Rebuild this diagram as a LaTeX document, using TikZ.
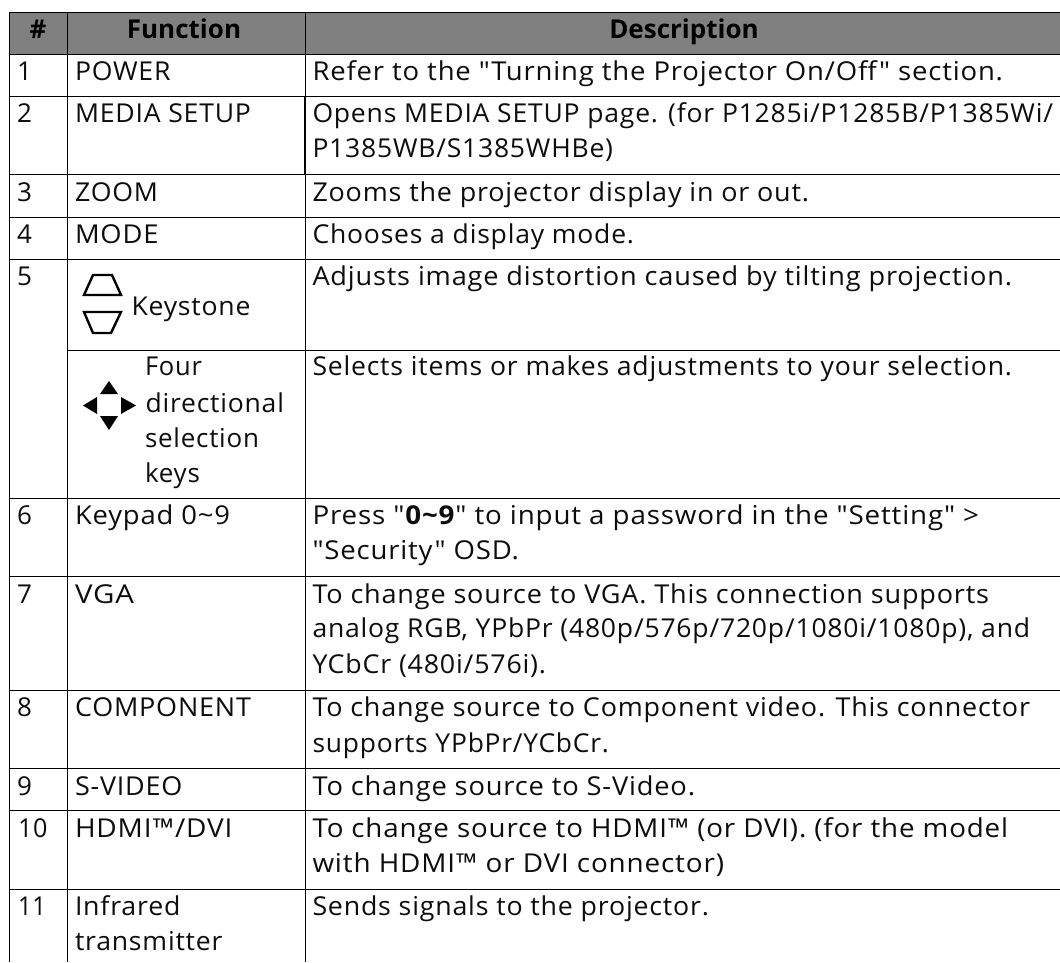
\documentclass[tikz,border=0pt]{standalone}
\usepackage{fontspec}
\usepackage{graphicx}
\newfontfamily\bodyf[LetterSpace=3]{Open Sans}
\newfontfamily\headf{Open Sans}
\definecolor{headgray}{HTML}{808080}
\definecolor{inkc}{HTML}{0D0D0D}
% #1 = left edge, #2 = right edge of the line of text: fits it by horizontal scaling
\newcommand{\fitline}[3]{\pgfmathsetmacro{\fitw}{#2-#1}\resizebox{\fitw pt}{\height}{#3}}
\tikzset{
  x=1pt,y=-1pt,
  rule/.style={draw=black,line width=1pt},
  cell/.style={anchor=base west,inner sep=0pt,outer sep=0pt,text=inkc,font=\fontsize{26}{30}\bodyf},
  head/.style={anchor=base,inner sep=0pt,outer sep=0pt,text=black,font=\fontsize{26}{30}\headf\bfseries},
}
\begin{document}
\begin{tikzpicture}
\useasboundingbox (0,0) rectangle (1060,962);
\fill[white] (0,0) rectangle (1060,962);
\fill[headgray] (9.5,12) rectangle (1060,54);
\foreach \y in {12,54,96.5,174,217,259,498,576.5,690,768,810,889}
  \draw[rule] (9.5,\y) -- (1060,\y);
\draw[rule] (67.5,350) -- (1060,350);
\draw[rule] (9.5,12) -- (9.5,962);
\draw[rule] (67.5,12) -- (67.5,962);
\draw[rule] (305.3,12) -- (305.3,962);
\draw[draw=black,line width=1.6pt] (305,96.5) -- (305,174);
% header
\node[head] (h1) at (38,38) {\#};
\node[head] (h2) at (184,38) {Function};
\node[head] (h3) at (684,38) {Description};
% numbers
\node[cell] (n1) at (17,80) {1};
\node[cell] (n2) at (17,122) {2};
\node[cell] (n3) at (17,201) {3};
\node[cell] (n4) at (17,243) {4};
\node[cell] (n5) at (17,285.5) {5};
\node[cell] (n6) at (17,524) {6};
\node[cell] (n7) at (17,603) {7};
\node[cell] (n8) at (17,716) {8};
\node[cell] (n9) at (17,795) {9};
\node[cell] (n10) at (18,837) {\fitline{18}{47.5}{10}};
\node[cell] (n11) at (18,915) {\fitline{18}{46}{11}};
% function column
\node[cell] (f1) at (75,80) {\fitline{75}{170.5}{POWER}};
\node[cell] (f2) at (75,122) {\fitline{75}{251}{MEDIA SETUP}};
\node[cell] (f3) at (75,201) {\fitline{75}{158}{ZOOM}};
\node[cell] (f4) at (75,243) {\fitline{75}{158.5}{MODE}};
\node[cell] (f5) at (131.5,315) {\fitline{131.5}{250.5}{Keystone}};
\node[cell] (f5a) at (145,375) {\fitline{145}{202}{Four}};
\node[cell] (f5b) at (145.5,412) {\fitline{145.5}{284}{directional}};
\node[cell] (f5c) at (145,447) {\fitline{145}{259}{selection}};
\node[cell] (f5d) at (145,482) {\fitline{145}{200}{keys}};
\node[cell] (f6) at (75,524) {\fitline{75}{230}{Keypad 0\textasciitilde 9}};
\node[cell] (f7) at (75,603) {\fitline{75}{134}{VGA}};
\node[cell] (f8) at (75,716) {\fitline{75}{251}{COMPONENT}};
\node[cell] (f9) at (75,795) {\fitline{75}{182.5}{S-VIDEO}};
\node[cell] (f10) at (75,837) {\fitline{75}{232.5}{HDMI™/DVI}};
\node[cell] (f11) at (75,915) {\fitline{75}{180.5}{Infrared}};
\node[cell] (f11b) at (75,950) {\fitline{75}{222.5}{transmitter}};
% description column
\node[cell] (d1) at (312.5,80) {\fitline{312.5}{1003}{Refer to the "Turning the Projector On/Off" section.}};
\node[cell] (d2) at (312.5,122) {\fitline{312.5}{1053}{Opens MEDIA SETUP page. (for P1285i/P1285B/P1385Wi/}};
\node[cell] (d2b) at (312.5,157) {\fitline{312.5}{613}{P1385WB/S1385WHBe)}};
\node[cell] (d3) at (312.5,201) {\fitline{312.5}{809}{Zooms the projector display in or out.}};
\node[cell] (d4) at (312.5,243) {\fitline{312.5}{634}{Chooses a display mode.}};
\node[cell] (d5) at (312.5,285.5) {\fitline{312.5}{1012}{Adjusts image distortion caused by tilting projection.}};
\node[cell] (d5b) at (312.5,375) {\fitline{312.5}{1012}{Selects items or makes adjustments to your selection.}};
\node[cell] (d6) at (312.5,524) {\fitline{312.5}{979}{Press "\textbf{0\textasciitilde 9}" to input a password in the "Setting" >}};
\node[cell] (d6b) at (312.5,559) {\fitline{312.5}{519}{"Security" OSD.}};
\node[cell] (d7) at (312.5,603) {\fitline{312.5}{989}{To change source to VGA. This connection supports}};
\node[cell] (d7b) at (312.5,637.5) {\fitline{312.5}{1030}{analog RGB, YPbPr (480p/576p/720p/1080i/1080p), and}};
\node[cell] (d7c) at (312.5,673) {\fitline{312.5}{546}{YCbCr (480i/576i).}};
\node[cell] (d8) at (312.5,716) {\fitline{312.5}{1030}{To change source to Component video. This connector}};
\node[cell] (d8b) at (312.5,752) {\fitline{312.5}{609}{supports YPbPr/YCbCr.}};
\node[cell] (d9) at (312.5,795) {\fitline{312.5}{695}{To change source to S-Video.}};
\node[cell] (d10) at (312.5,837) {\fitline{312.5}{1008}{To change source to HDMI™ (or DVI). (for the model}};
\node[cell] (d10b) at (312.5,872.5) {\fitline{312.5}{724}{with HDMI™ or DVI connector)}};
\node[cell] (d11) at (312.5,915) {\fitline{312.5}{709}{Sends signals to the projector.}};
% keystone icon
\draw[line width=2.4pt,line join=miter] (84,295) -- (93,275) -- (112,275) -- (121,295) -- cycle;
\draw[line width=2.4pt,line join=miter] (84,312) -- (121,312) -- (111,333) -- (93,333) -- cycle;
% arrow keys
\fill[black] (109,381) -- (118,394) -- (100,394) -- cycle;
\fill[black] (109,430) -- (118,416) -- (100,416) -- cycle;
\fill[black] (83,405.5) -- (97,397) -- (97,414) -- cycle;
\fill[black] (136,405.5) -- (121,397) -- (121,414) -- cycle;
\end{tikzpicture}
\end{document}
